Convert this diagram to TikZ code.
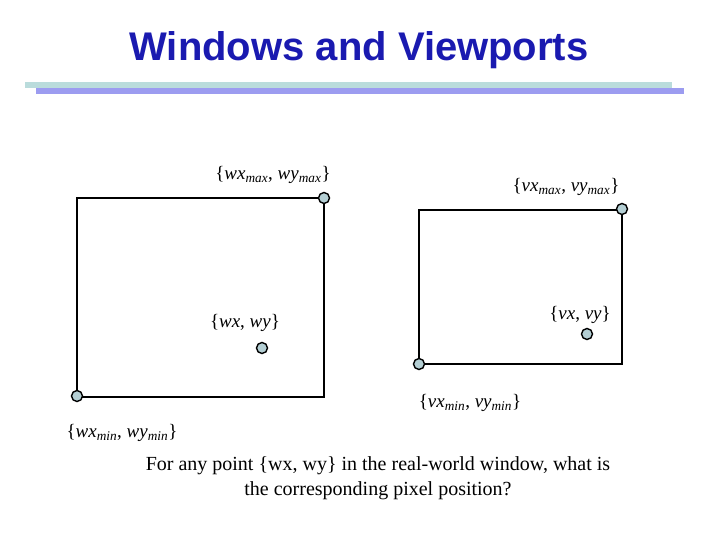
\documentclass[tikz,border=0pt]{standalone}
\usepackage{fontspec}
\setmainfont{Liberation Serif}
\newfontfamily\titlefont{Liberation Sans}
\definecolor{dotc}{HTML}{B4CFD4}
\definecolor{bar1}{HTML}{BADCDC}
\definecolor{bar2}{HTML}{9C9CF0}
\definecolor{titc}{HTML}{1A1AB0}
\begin{document}
\begin{tikzpicture}[x=1pt,y=-1pt,
  pt/.style={circle,draw=black,fill=dotc,line width=1.4pt,minimum size=11pt,inner sep=0pt},
  lbl/.style={font=\fontsize{19}{22}\selectfont,inner sep=0pt},
  box/.style={draw=black,line width=2.2pt}]
\useasboundingbox (0,0) rectangle (720,540);
\node[font=\titlefont\bfseries\fontsize{40}{44}\selectfont,text=titc] (title) at (359,50) {Windows and Viewports};
\fill[bar1] (25,82) rectangle (672,88);
\fill[bar2] (36,88) rectangle (684,94);
\draw[box] (77,198) rectangle (324,397);
\draw[box] (419,210) rectangle (622,364);
\node[pt] (wmax) at (324,198) {};
\node[pt] (wmin) at (77,396) {};
\node[pt] (vmax) at (622,209) {};
\node[pt] (vmin) at (419,364) {};
\node[pt] (w) at (262,348) {};
\node[pt] (v) at (587,334) {};
\node[lbl] (lwmax) at (273,175) {\{\textit{wx}\textsubscript{\textit{max}}, \textit{wy}\textsubscript{\textit{max}}\}};
\node[lbl] (lvmax) at (566,187) {\{\textit{vx}\textsubscript{\textit{max}}, \textit{vy}\textsubscript{\textit{max}}\}};
\node[lbl] (lw) at (245,323) {\{\textit{wx}, \textit{wy}\}};
\node[lbl] (lv) at (580,315) {\{\textit{vx}, \textit{vy}\}};
\node[lbl] (lvmin) at (470,403) {\{\textit{vx}\textsubscript{\textit{min}}, \textit{vy}\textsubscript{\textit{min}}\}};
\node[lbl] (lwmin) at (122,433) {\{\textit{wx}\textsubscript{\textit{min}}, \textit{wy}\textsubscript{\textit{min}}\}};
\node[font=\fontsize{20}{25}\selectfont,align=center] (q) at (378,478) {For any point \{wx, wy\} in the real-world window, what is\\the corresponding pixel position?};
\end{tikzpicture}
\end{document}
